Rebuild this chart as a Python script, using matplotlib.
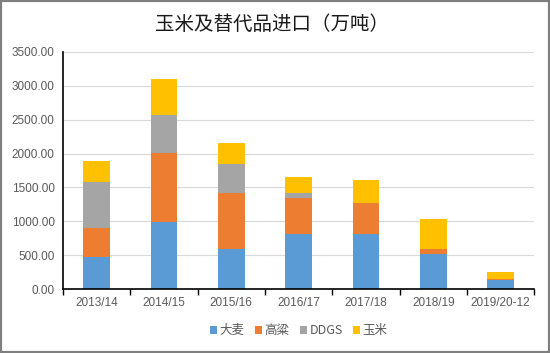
import matplotlib.pyplot as plt
import numpy as np
from matplotlib.patches import Rectangle

plt.rcParams['font.family'] = ['Noto Sans CJK SC', 'DejaVu Sans']

years = ['2013/14', '2014/15', '2015/16', '2016/17', '2017/18', '2018/19', '2019/20-12']
barley = [478, 991, 588, 816, 816, 513, 130]
sorghum = [423, 1020, 836, 523, 459, 80, 25]
ddgs = [672, 565, 422, 79, 0, 0, 0]
corn = [320, 530, 310, 240, 340, 445, 94]

names = ['大麦', '高粱', 'DDGS', '玉米']
colors = ['#5B9BD5', '#ED7D31', '#A5A5A5', '#FFC000']

fig = plt.figure(figsize=(5.5, 3.53), dpi=100)
ax = fig.add_axes([0.1145, 0.1813, 0.857, 0.6714])

x = np.arange(len(years))
bottom = np.zeros(len(years))
for vals, name, c in zip([barley, sorghum, ddgs, corn], names, colors):
    ax.bar(x, vals, width=0.4, bottom=bottom, color=c, label=name, zorder=2)
    bottom += np.array(vals)

ax.set_xlim(-0.5, len(years) - 0.5)
ax.set_ylim(0, 3500)
ax.set_yticks(np.arange(0, 3501, 500))
ax.set_yticklabels(['%.2f' % v for v in np.arange(0, 3501, 500)],
                   family='Liberation Sans', fontsize=8.5, color='#595959')
ax.set_xticks(x)
ax.set_xticklabels(years, family='Liberation Sans', fontsize=8.5, color='#595959')
ax.set_xticks(np.arange(-0.5, len(years), 1), minor=True)
ax.tick_params(axis='x', which='major', length=0, pad=6)
ax.tick_params(axis='x', which='minor', length=4, width=1, color='black', direction='out')
ax.tick_params(axis='y', length=0, pad=6)
ax.grid(axis='y', color='#d9d9d9', linewidth=0.8, zorder=0)
for s in ['top', 'right']:
    ax.spines[s].set_visible(False)
ax.spines['left'].set_color('black')
ax.spines['left'].set_linewidth(1.2)
ax.spines['bottom'].set_color('black')
ax.spines['bottom'].set_linewidth(1.2)

fig.text(0.495, 0.93, '玉米及替代品进口（万吨）', ha='center', va='center',
         fontsize=14, fontweight='medium', color='#1a1a1a')

leg = ax.legend(loc='upper center', bbox_to_anchor=(0.5, -0.1), ncol=4, frameon=False,
                handlelength=0.6, handleheight=0.6, handletextpad=0.2, columnspacing=0.8,
                fontsize=9)
for t in leg.get_texts():
    t.set_color('#595959')

fig.patches.append(Rectangle((0, 0), 1, 1, transform=fig.transFigure, fill=False,
                             edgecolor='#7f7f7f', linewidth=3))

fig.savefig('out.png', dpi=100)
